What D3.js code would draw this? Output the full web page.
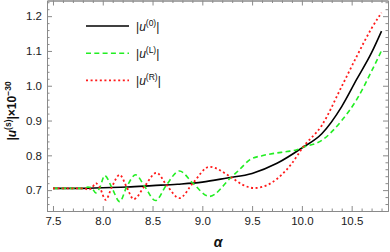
<!DOCTYPE html>
<html><head><meta charset="utf-8">
<script src="https://cdn.jsdelivr.net/npm/d3@7"></script>
<style>
body{margin:0;background:#fff;}
svg{display:block;font-family:"Liberation Sans",Arial,sans-serif;}
</style></head>
<body><svg id="c" width="390" height="252"></svg>
<script>
// data
const alpha0 = [7.5, 7.75, 8.0, 8.25, 8.5, 8.75, 9.0, 9.25, 9.5, 9.75, 10.0, 10.2, 10.4, 10.55, 10.7, 10.8];
const u0     = [0.705, 0.705, 0.707, 0.709, 0.713, 0.717, 0.723, 0.735, 0.748, 0.777, 0.821, 0.862, 0.940, 1.018, 1.095, 1.157];

const alphaL = [7.5, 7.78, 7.82, 7.85, 7.89, 7.93, 7.97, 8.02, 8.09, 8.17, 8.24, 8.33, 8.42, 8.53, 8.64, 8.77, 8.905, 9.07, 9.29, 9.37, 9.475, 9.6, 9.73, 9.85, 9.95, 10.01, 10.2, 10.4, 10.55, 10.7, 10.8];
const uL     = [0.705, 0.705, 0.705, 0.709, 0.706, 0.692, 0.707, 0.742, 0.708, 0.667, 0.709, 0.744, 0.711, 0.670, 0.715, 0.755, 0.720, 0.682, 0.737, 0.758, 0.787, 0.799, 0.806, 0.811, 0.816, 0.823, 0.843, 0.900, 0.960, 1.042, 1.101];

const alphaR = [7.5, 7.78, 7.82, 7.85, 7.89, 7.93, 7.97, 8.03, 8.09, 8.17, 8.24, 8.31, 8.42, 8.54, 8.64, 8.77, 8.905, 9.07, 9.29, 9.4, 9.52, 9.6, 9.7, 9.8, 9.9, 10.01, 10.2, 10.4, 10.55, 10.7, 10.8];
const uR     = [0.705, 0.705, 0.705, 0.701, 0.706, 0.720, 0.707, 0.672, 0.708, 0.744, 0.709, 0.674, 0.711, 0.750, 0.715, 0.677, 0.720, 0.767, 0.737, 0.716, 0.706, 0.709, 0.722, 0.745, 0.777, 0.823, 0.886, 0.998, 1.084, 1.165, 1.210];

const xTicks = [7.5, 8.0, 8.5, 9.0, 9.5, 10.0, 10.5];
const yTicks = [0.7, 0.8, 0.9, 1.0, 1.1, 1.2];
const seriesNames = ["0", "L", "R"];

const svg = d3.select("#c");
const L = 47, R = 388, T = 0.5, B = 211;
const x = d3.scaleLinear().domain([7.44, 10.865]).range([L, R]);
const y = d3.scaleLinear().domain([0.64, 1.245]).range([B, T]);

const frameColor = "#8a8a8a";
const xMinor = d3.range(75, 109).map(d => d / 10).filter(d => !xTicks.some(t => Math.abs(t - d) < 1e-6));
const yMinor = d3.range(32, 63).map(d => d / 50).filter(d => !yTicks.some(t => Math.abs(t - d) < 1e-6) && d >= 0.64 && d <= 1.245);

function styleAxis(g){
  g.selectAll(".domain").attr("stroke", frameColor).attr("stroke-width", 1);
  g.selectAll(".tick line").attr("stroke", frameColor);
  g.selectAll(".tick text").attr("fill", "#1a1a1a").style("font-size", "11.5px").style("font-family", '"Liberation Sans",Arial,sans-serif');
}
const fmt = d3.format(".1f");

// bottom
svg.append("g").attr("transform", `translate(0,${B})`)
  .call(d3.axisBottom(x).tickValues(xTicks).tickFormat(fmt).tickSizeInner(-5).tickSizeOuter(0).tickPadding(6)).call(styleAxis);
svg.append("g").attr("transform", `translate(0,${B})`)
  .call(d3.axisBottom(x).tickValues(xMinor).tickFormat("").tickSizeInner(-2.5).tickSizeOuter(0)).call(styleAxis);
// top
svg.append("g").attr("transform", `translate(0,${T})`)
  .call(d3.axisTop(x).tickValues(xTicks).tickFormat("").tickSizeInner(-5).tickSizeOuter(0)).call(styleAxis);
svg.append("g").attr("transform", `translate(0,${T})`)
  .call(d3.axisTop(x).tickValues(xMinor).tickFormat("").tickSizeInner(-2.5).tickSizeOuter(0)).call(styleAxis);
// left
svg.append("g").attr("transform", `translate(${L},0)`)
  .call(d3.axisLeft(y).tickValues(yTicks).tickFormat(fmt).tickSizeInner(-5).tickSizeOuter(0).tickPadding(5)).call(styleAxis);
svg.append("g").attr("transform", `translate(${L},0)`)
  .call(d3.axisLeft(y).tickValues(yMinor).tickFormat("").tickSizeInner(-2.5).tickSizeOuter(0)).call(styleAxis);
// right
svg.append("g").attr("transform", `translate(${R},0)`)
  .call(d3.axisRight(y).tickValues(yTicks).tickFormat("").tickSizeInner(-5).tickSizeOuter(0)).call(styleAxis);
svg.append("g").attr("transform", `translate(${R},0)`)
  .call(d3.axisRight(y).tickValues(yMinor).tickFormat("").tickSizeInner(-2.5).tickSizeOuter(0)).call(styleAxis);

// lines
const line = d3.line().x(d => x(d[0])).y(d => y(d[1])).curve(d3.curveMonotoneX);
const styles = [
  {a: alpha0, v: u0, color: "#000000", dash: null, w: 1.6},
  {a: alphaL, v: uL, color: "#22ee22", dash: "5,3.3", w: 1.6},
  {a: alphaR, v: uR, color: "#ff1a1a", dash: "2,2.6", w: 1.8}
];
const plot = svg.append("g");
styles.forEach(s => {
  plot.append("path")
    .datum(s.a.map((d, i) => [d, s.v[i]]))
    .attr("d", line)
    .attr("fill", "none")
    .attr("stroke", s.color)
    .attr("stroke-width", s.w)
    .attr("stroke-dasharray", s.dash);
});

// legend
const legY = [26, 53.3, 80.3];
const leg = svg.append("g");
styles.forEach((s, i) => {
  leg.append("line").attr("x1", 86).attr("x2", 129).attr("y1", legY[i]).attr("y2", legY[i])
    .attr("stroke", s.color).attr("stroke-width", s.w).attr("stroke-dasharray", s.dash);
  const t = leg.append("text").attr("x", 136).attr("y", legY[i] + 4.5)
    .style("font-size", "12px").attr("fill", "#111");
  t.append("tspan").text("|");
  t.append("tspan").text("u").style("font-style", "italic");
  t.append("tspan").text("(" + seriesNames[i] + ")").attr("dy", -5).style("font-size", "8.5px");
  t.append("tspan").text("|").attr("dy", 5);
});

// y label
const yl = svg.append("text").attr("transform", "translate(16,111) rotate(-90)")
  .attr("text-anchor", "middle").style("font-size", "12px").style("font-weight", "bold").attr("fill", "#111");
yl.append("tspan").text("|");
yl.append("tspan").text("u").style("font-style", "italic");
yl.append("tspan").text("(s)").attr("dy", -5).style("font-size", "8.5px");
yl.append("tspan").text("|×10").attr("dy", 5);
yl.append("tspan").text("−30").attr("dy", -5).style("font-size", "8.5px");

// x label
svg.append("text").attr("x", 218).attr("y", 247).attr("text-anchor", "middle")
  .style("font-size", "14px").style("font-weight", "bold").style("font-style", "italic").attr("fill", "#111").text("α");
</script>
</body></html>
